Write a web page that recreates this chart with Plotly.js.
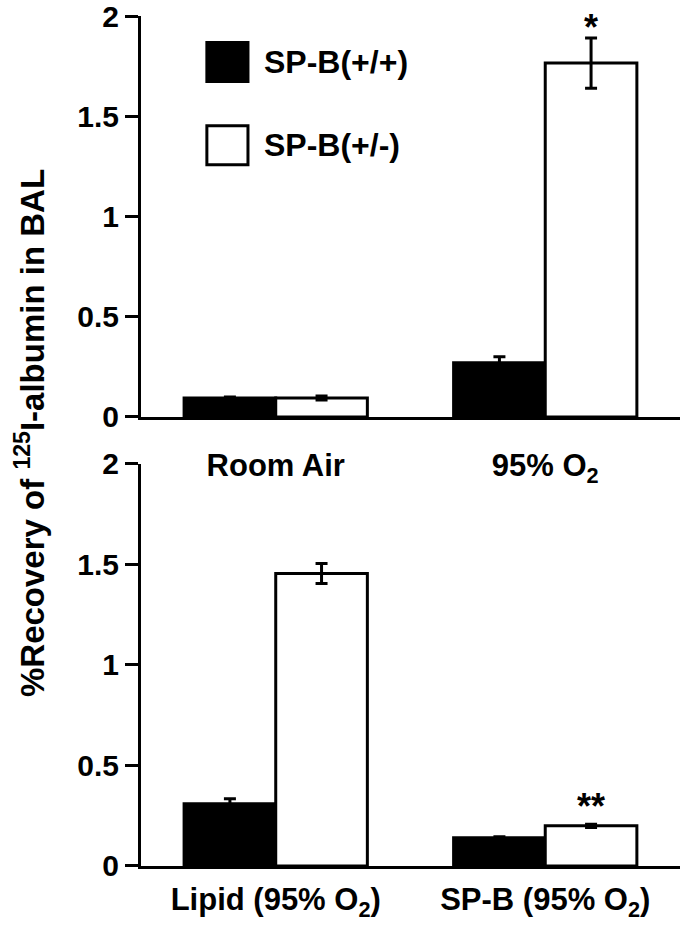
<!DOCTYPE html>
<html>
<head>
<meta charset="utf-8">
<script src="https://cdn.plot.ly/plotly-3.0.1.min.js"></script>
<style>
  html, body { margin: 0; padding: 0; background: #fff; }
  #chart { width: 685px; height: 925px; }
</style>
</head>
<body>
<div id="chart"></div>
<script>
var seriesNames = ['SP-B(+/+)', 'SP-B(+/-)'];
var topCategories = ['Room Air', '95% O<sub>2</sub>'];
var bottomCategories = ['Lipid (95% O<sub>2</sub>)', 'SP-B (95% O<sub>2</sub>)'];

var topWild = [0.095, 0.27];
var topWildErr = [0.005, 0.03];
var topHet = [0.095, 1.765];
var topHetErr = [0.01, 0.125];
var topMarks = ['', '*'];

var bottomWild = [0.31, 0.14];
var bottomWildErr = [0.025, 0.006];
var bottomHet = [1.455, 0.2];
var bottomHetErr = [0.05, 0.008];
var bottomMarks = ['', '**'];

var yTicks = [0, 0.5, 1, 1.5, 2];
var yTickText = ['0', '0.5', '1', '1.5', '2'];

var family = 'Liberation Sans, Arial, Helvetica, sans-serif';
var tickFont = {family: family, size: 30, color: '#000', weight: 'bold'};
var catFont = {family: family, size: 31, color: '#000', weight: 'bold'};

function barTrace(x, y, err, fill, name, xa, ya) {
  return {
    type: 'bar',
    x: x,
    y: y,
    name: name,
    xaxis: xa,
    yaxis: ya,
    marker: {color: fill, line: {color: '#000', width: 3}},
    error_y: {type: 'data', array: err, visible: true, color: '#000', thickness: 3, width: 6},
    showlegend: false,
    hoverinfo: 'x+y'
  };
}

var data = [
  barTrace(topCategories, topWild, topWildErr, '#000', seriesNames[0], 'x', 'y'),
  barTrace(topCategories, topHet, topHetErr, '#fff', seriesNames[1], 'x', 'y'),
  barTrace(bottomCategories, bottomWild, bottomWildErr, '#000', seriesNames[0], 'x2', 'y2'),
  barTrace(bottomCategories, bottomHet, bottomHetErr, '#fff', seriesNames[1], 'x2', 'y2')
];

function yAxis(domain, anchor) {
  return {
    domain: domain, anchor: anchor, range: [0, 2],
    tickmode: 'array', tickvals: yTicks, ticktext: yTickText,
    showline: true, linewidth: 3, linecolor: '#000',
    ticks: 'outside', ticklen: 13, tickwidth: 3, tickcolor: '#000',
    showgrid: false, zeroline: false, tickfont: tickFont, fixedrange: true,
    ticklabeloverflow: 'allow'
  };
}

function xAxis(anchor, standoff) {
  return {
    domain: [0.2058, 0.9927], anchor: anchor, range: [-0.5, 1.5],
    showline: true, linewidth: 3, linecolor: '#000',
    ticks: '', showgrid: false, zeroline: false,
    tickfont: catFont, ticklabelstandoff: standoff, fixedrange: true,
    ticklabeloverflow: 'allow'
  };
}

// significance stars over the SP-B(+/-) bars
var annotations = [];
var barOffset = 0.17;
var starFont = {family: family, size: 36, color: '#000', weight: 'bold'};
for (var i = 0; i < topMarks.length; i++) {
  if (topMarks[i]) {
    annotations.push({
      xref: 'x', yref: 'y', x: i + barOffset, y: topHet[i] + topHetErr[i],
      text: topMarks[i], showarrow: false, yanchor: 'bottom', yshift: -12,
      font: starFont
    });
  }
}
for (var j = 0; j < bottomMarks.length; j++) {
  if (bottomMarks[j]) {
    annotations.push({
      xref: 'x2', yref: 'y2', x: j + barOffset, y: bottomHet[j] + bottomHetErr[j],
      text: bottomMarks[j], showarrow: false, yanchor: 'bottom', yshift: -5,
      font: starFont
    });
  }
}

// shared y title
annotations.push({
  xref: 'paper', yref: 'paper', x: 0.044, y: 0.532,
  text: '%Recovery of <sup>125</sup>I-albumin in BAL', textangle: -90,
  showarrow: false, xanchor: 'center', yanchor: 'middle',
  font: {family: family, size: 33, color: '#000', weight: 'bold'}
});

// legend text
var legendY = [0.933, 0.843];
for (var k = 0; k < seriesNames.length; k++) {
  annotations.push({
    xref: 'paper', yref: 'paper', x: 0.383, y: legendY[k],
    text: seriesNames[k], showarrow: false, xanchor: 'left', yanchor: 'middle',
    font: {family: family, size: 32, color: '#000', weight: 'bold'}
  });
}

var legendFill = ['#000', '#fff'];
var shapes = [];
for (var m = 0; m < seriesNames.length; m++) {
  shapes.push({
    type: 'rect', xref: 'paper', yref: 'paper',
    x0: 0.302, x1: 0.362, y0: legendY[m] - 0.021, y1: legendY[m] + 0.021,
    fillcolor: legendFill[m], line: {color: '#000', width: 3}
  });
}

var layout = {
  width: 685,
  height: 925,
  margin: {l: 0, r: 0, t: 0, b: 0},
  paper_bgcolor: '#fff',
  plot_bgcolor: 'rgba(0,0,0,0)',
  barmode: 'group',
  bargap: 0.32,
  bargroupgap: 0,
  showlegend: false,
  xaxis: xAxis('y', 19),
  yaxis: yAxis([0.5492, 0.9827], 'x'),
  xaxis2: xAxis('y2', 4),
  yaxis2: yAxis([0.0638, 0.4984], 'x2'),
  annotations: annotations,
  shapes: shapes
};

Plotly.newPlot('chart', data, layout, {displayModeBar: false, staticPlot: true});
</script>
</body>
</html>
